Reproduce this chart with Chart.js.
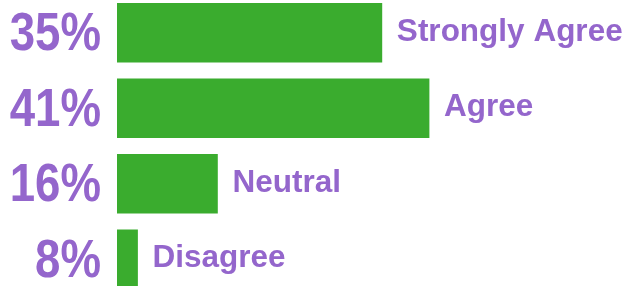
<!DOCTYPE html>
<html>
<head>
<meta charset="utf-8">
<script src="https://cdn.jsdelivr.net/npm/chart.js@4"></script>
<style>
    html, body { margin: 0; padding: 0; background: #ffffff; overflow: hidden; }
    body { width: 630px; height: 286px; position: relative; }
    #surveyChart { position: absolute; left: 0; top: -5px; }
</style>
</head>
<body>
<canvas id="surveyChart" width="630" height="302"></canvas>
<script>
// survey answers, top to bottom
const categories = ['Strongly Agree', 'Agree', 'Neutral', 'Disagree'];
const percentLabels = ['35%', '41%', '16%', '8%'];
// bar lengths as drawn in the picture (not proportional to the printed %)
const barValues = [34.8, 41, 13.2, 2.7];

const barColor = 'rgb(58, 172, 46)';
const textColor = 'rgb(148, 102, 204)';
const fontFamily = '"Liberation Sans", Arial, Helvetica, sans-serif';

// draws the big % on the left and the answer text after each bar
const labelPlugin = {
    id: 'surveyLabels',
    afterDatasetsDraw(chart) {
        const ctx = chart.ctx;
        const meta = chart.getDatasetMeta(0);
        meta.data.forEach(function(bar, i) {
            // percent label, slightly condensed like the original
            ctx.save();
            ctx.fillStyle = textColor;
            ctx.font = 'bold 53px ' + fontFamily;
            ctx.textAlign = 'right';
            ctx.textBaseline = 'alphabetic';
            ctx.translate(101, bar.y + 17.5);
            ctx.scale(0.86, 1);
            ctx.fillText(percentLabels[i], 0, 0);
            ctx.restore();

            // category label
            ctx.save();
            ctx.fillStyle = textColor;
            ctx.font = 'bold 31.5px ' + fontFamily;
            ctx.textAlign = 'left';
            ctx.textBaseline = 'alphabetic';
            ctx.fillText(categories[i], bar.x + 15, bar.y + 8);
            ctx.restore();
        });
    }
};

new Chart(document.getElementById('surveyChart'), {
    type: 'bar',
    data: {
        labels: categories,
        datasets: [{
            data: barValues,
            backgroundColor: barColor,
            borderWidth: 0,
            barThickness: 59
        }]
    },
    options: {
        indexAxis: 'y',
        responsive: false,
        animation: false,
        devicePixelRatio: 1,
        layout: { padding: { left: 117, right: 0, top: 0, bottom: 0 } },
        scales: {
            x: { display: false, min: 0, max: 67.4 },
            y: { display: false, offset: true, grid: { display: false } }
        },
        plugins: {
            legend: { display: false },
            tooltip: { enabled: false }
        }
    },
    plugins: [labelPlugin]
});
</script>
</body>
</html>
